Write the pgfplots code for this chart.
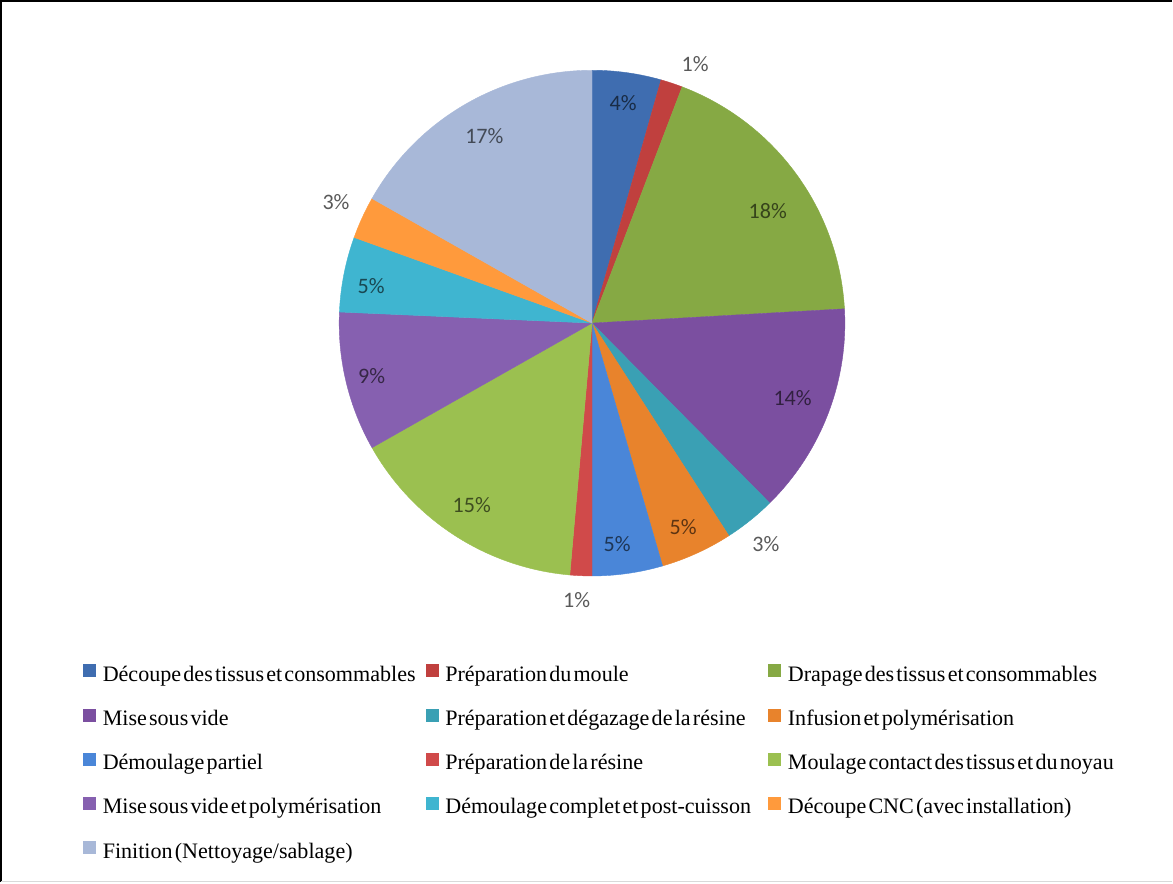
\documentclass[border=0pt]{standalone}
\usepackage{fontspec}
\setmainfont{Liberation Serif}[WordSpace=0.4]
\newfontfamily\legfont{Liberation Serif}[WordSpace=0.4]
\newfontfamily\lblfont{Carlito}
\usepackage{pgfplots}
\pgfplotsset{compat=1.18}
\usepackage{pgfplotstable}

\definecolor{c0}{HTML}{3F6DB0}
\definecolor{c1}{HTML}{C0403E}
\definecolor{c2}{HTML}{86A944}
\definecolor{c3}{HTML}{7B4FA0}
\definecolor{c4}{HTML}{3AA0B4}
\definecolor{c5}{HTML}{E8832C}
\definecolor{c6}{HTML}{4A86D8}
\definecolor{c7}{HTML}{D04A4A}
\definecolor{c8}{HTML}{9BC050}
\definecolor{c9}{HTML}{8660B0}
\definecolor{c10}{HTML}{3FB5D0}
\definecolor{c11}{HTML}{FF9A3C}
\definecolor{c12}{HTML}{A8B8D8}
\definecolor{lblgray}{HTML}{595959}

% val = share of slice (%), pct = printed label, lr = label radius (px),
% da = label angle shift (deg), out = label outside the pie
\pgfplotstableread{
val  pct lr  da   out
4.4  4   225 0    0
1.4  1   282 3    1
18.3 18  210 2.7  0
13.5 14  212 -1.6 0
3.3  3   277 0    1
4.6  5   219 0    0
4.5  5   218 1.5  0
1.4  1   272 0.7  1
15.4 15  214 1.3  0
8.9  9   225 0.9  0
4.8  5   224 -0.6 0
2.7  3   284 1.4  1
16.8 17  219 0.9  0
}\piedata

\newcommand\LE[1]{\makebox[150pt][l]{\legfont\fontsize{11}{13}\selectfont #1}}

\begin{document}
\begin{tikzpicture}
\begin{axis}[
  scale only axis, width=586.5pt, height=442pt,
  xmin=0, xmax=1173, ymin=0, ymax=884, y dir=reverse,
  hide axis, clip=false,
  legend image code/.code={\fill[#1] (0pt,-0.5pt) rectangle (6pt,5.5pt);},
  legend columns=3,
  legend cell align=left,
  legend style={at={(axis cs:88,667)}, anchor=north west, draw=none, fill=none,
    inner sep=0pt, outer sep=0pt, font=\legfont\fontsize{11}{13}\selectfont, row sep=11.2pt,
    nodes={inner sep=0pt, text height=8pt, text depth=2.5pt},
    /tikz/every odd column/.append style={column sep=3.5pt},
    /tikz/every even column/.append style={column sep=11pt}},
  legend entries={
    \LE{Découpe des tissus et consommables},
    \LE{Préparation du moule},
    \LE{Drapage des tissus et consommables},
    \LE{Mise sous vide},
    \LE{Préparation et dégazage de la résine},
    \LE{Infusion et polymérisation},
    \LE{Démoulage partiel},
    \LE{Préparation de la résine},
    \LE{Moulage contact des tissus et du noyau},
    \LE{Mise sous vide et polymérisation},
    \LE{Démoulage complet et post-cuisson},
    \LE{Découpe CNC (avec installation)},
    \LE{Finition (Nettoyage/sablage)}},
]
\xdef\cum{0}
\pgfplotsforeachungrouped \i in {0,...,12}{%
  \pgfplotstablegetelem{\i}{val}\of\piedata \let\sval\pgfplotsretval
  \pgfplotstablegetelem{\i}{pct}\of\piedata \let\spct\pgfplotsretval
  \pgfplotstablegetelem{\i}{lr}\of\piedata \let\slr\pgfplotsretval
  \pgfplotstablegetelem{\i}{da}\of\piedata \let\sda\pgfplotsretval
  \pgfplotstablegetelem{\i}{out}\of\piedata \let\sout\pgfplotsretval
  \pgfmathsetmacro\aS{3.6*\cum}
  \pgfmathsetmacro\aE{3.6*(\cum+\sval)}
  \pgfmathtruncatemacro\nseg{max(2,ceil(\aE-\aS))}
  \xdef\coords{(595,327)}
  \foreach \k in {0,...,\nseg}{%
    \pgfmathsetmacro\ang{\aS+(\aE-\aS)*\k/\nseg}
    \pgfmathsetmacro\px{595+252*sin(\ang)}
    \pgfmathsetmacro\py{327-252*cos(\ang)}
    \xdef\coords{\coords (\px,\py)}
  }
  \pgfmathsetmacro\am{(\aS+\aE)/2+\sda}
  \pgfmathsetmacro\lx{595+\slr*sin(\am)}
  \pgfmathsetmacro\ly{331-\slr*cos(\am)}
  \ifnum\sout=1 \def\lc{lblgray}\else \edef\lc{c\i!40!black}\fi
  \edef\cmd{\noexpand\addplot[fill=c\i, draw=c\i, line width=0.2pt] coordinates {\coords} -- cycle;
    \noexpand\node[font=\noexpand\lblfont\noexpand\fontsize{11}{13}\noexpand\selectfont, text=\lc]
      at (axis cs:\lx,\ly) {\spct\noexpand\%};}
  \cmd
  \pgfmathsetmacro\tmp{\cum+\sval}\xdef\cum{\tmp}
}
% frame
\draw[black, line width=1pt] (axis cs:6,884) -- (axis cs:6,6) -- (axis cs:1173,6);
\draw[gray!30, line width=0.5pt] (axis cs:6,883) -- (axis cs:1173,883);
\end{axis}
\end{tikzpicture}
\end{document}
